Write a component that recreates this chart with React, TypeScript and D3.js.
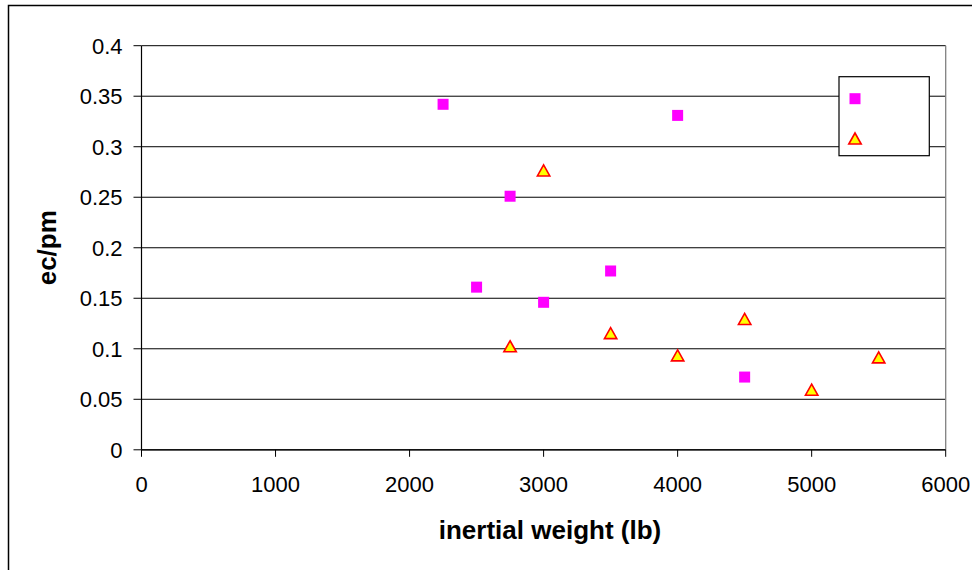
import React from "react";
import * as d3 from "d3";

const squareX = [2250, 2500, 2750, 3000, 3500, 4000, 4500];
const squareY = [0.342, 0.161, 0.251, 0.146, 0.177, 0.331, 0.072];
const triangleX = [2750, 3000, 3500, 4000, 4500, 5000, 5500];
const triangleY = [0.102, 0.276, 0.115, 0.093, 0.129, 0.059, 0.091];
const xTicks = [0, 1000, 2000, 3000, 4000, 5000, 6000];
const yTicks = [0, 0.05, 0.1, 0.15, 0.2, 0.25, 0.3, 0.35, 0.4];
const xTitle = "inertial weight (lb)";
const yTitle = "ec/pm";

const W = 972;
const H = 570;
const L = 141.5;
const R = 945.7;
const T = 45.7;
const B = 449.8;

export default function App() {
  const x = d3.scaleLinear().domain([0, 6000]).range([L, R]);
  const y = d3.scaleLinear().domain([0, 0.4]).range([B, T]);
  const font = "'Liberation Sans', Arial, sans-serif";
  const tri = (cx: number, cy: number) =>
    `M${cx},${cy - 6}L${cx + 6.2},${cy + 5}L${cx - 6.2},${cy + 5}Z`;
  const legX = 855;
  const legY1 = 98.7;
  const legY2 = 139;
  return (
    <svg
      width={W}
      height={H}
      style={{ position: "absolute", left: 0, top: 0, background: "#fff" }}
      fontFamily={font}
    >
      <rect x={8.5} y={5.5} width={980} height={580} fill="#fff" stroke="#000" strokeWidth={1.5} />
      {yTicks.map((t) => (
        <line key={"g" + t} x1={L} x2={R} y1={y(t)} y2={y(t)} stroke="#000" strokeWidth={1} />
      ))}
      <line x1={R} x2={R} y1={T} y2={B} stroke="#808080" strokeWidth={1.3} />
      <line x1={L} x2={L} y1={T} y2={B} stroke="#000" strokeWidth={1.2} />
      <line x1={L} x2={R} y1={B} y2={B} stroke="#000" strokeWidth={1.2} />
      {yTicks.map((t) => (
        <g key={"yt" + t}>
          <line x1={L - 8} x2={L} y1={y(t)} y2={y(t)} stroke="#000" strokeWidth={1} />
          <text x={L - 19} y={y(t)} dy="0.36em" textAnchor="end" fontSize={22} fill="#000">
            {String(t)}
          </text>
        </g>
      ))}
      {xTicks.map((t) => (
        <g key={"xt" + t}>
          <line x1={x(t)} x2={x(t)} y1={B} y2={B + 7} stroke="#000" strokeWidth={1} />
          <text x={x(t)} y={491.5} textAnchor="middle" fontSize={22} fill="#000">
            {String(t)}
          </text>
        </g>
      ))}
      <text x={550} y={539} textAnchor="middle" fontSize={26} fontWeight="bold" fill="#000">
        {xTitle}
      </text>
      <text
        transform={`translate(56,${(T + B) / 2}) rotate(-90)`}
        textAnchor="middle"
        fontSize={26}
        fontWeight="bold"
        fill="#000"
      >
        {yTitle}
      </text>
      {squareX.map((v, i) => (
        <rect
          key={"s" + i}
          x={x(v) - 5.5}
          y={y(squareY[i]) - 5.5}
          width={11}
          height={11}
          fill="#ff00ff"
        />
      ))}
      {triangleX.map((v, i) => (
        <path
          key={"t" + i}
          d={tri(x(v), y(triangleY[i]))}
          fill="#ffff00"
          stroke="#ff0000"
          strokeWidth={1.6}
          strokeLinejoin="miter"
        />
      ))}
      <rect x={839} y={76.7} width={90.3} height={79} fill="#fff" stroke="#000" strokeWidth={1.2} />
      <rect x={legX - 5.5} y={legY1 - 5.5} width={11} height={11} fill="#ff00ff" />
      <path d={tri(legX, legY2)} fill="#ffff00" stroke="#ff0000" strokeWidth={1.6} />
    </svg>
  );
}
